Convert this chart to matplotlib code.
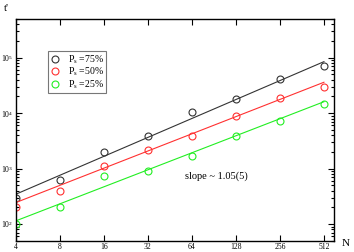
import numpy as np
import matplotlib
matplotlib.use("Agg")
import matplotlib.pyplot as plt
from matplotlib.ticker import FixedLocator, NullFormatter, LogLocator

plt.rcParams["font.family"] = ["Liberation Serif", "DejaVu Serif"]
plt.rcParams["mathtext.fontset"] = "custom"
plt.rcParams["mathtext.rm"] = "Liberation Serif"
plt.rcParams["mathtext.it"] = "Liberation Serif:italic"

# ---- data ----
N = [4, 8, 16, 32, 64, 128, 256, 512]
t_75 = [300, 610, 2000, 3900, 10500, 17800, 41000, 72000]
t_50 = [200, 400, 1100, 2200, 3900, 9000, 18600, 29500]
t_25 = [100, 205, 720, 890, 1700, 3900, 7200, 14700]

# power-law fits t' = A * N^b
fit_A = [345 / 4**1.135, 244 / 4**1.03, 114 / 4**1.02]
fit_b = [1.135, 1.03, 1.02]

labels = [r"P$_\mathrm{s}$ =75%", r"P$_\mathrm{s}$ =50%", r"P$_\mathrm{s}$ =25%"]
colors = ["#333333", "#ff3030", "#22ee22"]

fig = plt.figure(figsize=(3.54, 2.52), dpi=100)
ax = fig.add_axes([0.045, 0.045, 0.8985, 0.8795])

Nn = np.array(N, dtype=float)
for series, A, b, lab, c in zip([t_75, t_50, t_25], fit_A, fit_b, labels, colors):
    ax.plot(N, series, "o", mfc="none", mec=c, ms=5, mew=0.8, label=lab)
    ax.plot(Nn, A * Nn**b, "-", color=c, lw=0.8)

ax.set_xscale("log", base=2)
ax.set_yscale("log")
ax.set_xlim(4, 600)
ax.set_ylim(50, 5e5)

ax.xaxis.set_major_locator(FixedLocator(N))
ax.set_xticklabels([str(n) for n in N])
ax.xaxis.set_minor_locator(FixedLocator([]))
ax.yaxis.set_major_locator(LogLocator(base=10))
ax.yaxis.set_minor_locator(LogLocator(base=10, subs=np.arange(2, 10)))
ax.yaxis.set_minor_formatter(NullFormatter())

ax.tick_params(which="both", direction="in", top=True, right=True,
               labelsize=5.5, pad=2, width=0.8)
ax.tick_params(which="major", length=4)
ax.tick_params(which="minor", length=2)
for s in ax.spines.values():
    s.set_linewidth(1.0)

leg = ax.legend(loc="upper left", bbox_to_anchor=(0.1, 0.855), fontsize=7,
                frameon=True, fancybox=False, handletextpad=0.9,
                borderpad=0.2, labelspacing=0.0, handlelength=1.0,
                borderaxespad=0)
leg.get_frame().set_edgecolor("#555555")
leg.get_frame().set_linewidth(0.8)

ax.text(0.53, 0.28, "slope ~ 1.05(5)", transform=ax.transAxes, fontsize=7.5)
fig.text(0.012, 0.955, "t'", fontsize=8)
fig.text(0.965, 0.025, "N", fontsize=8)

fig.savefig("out.png", dpi=100)
